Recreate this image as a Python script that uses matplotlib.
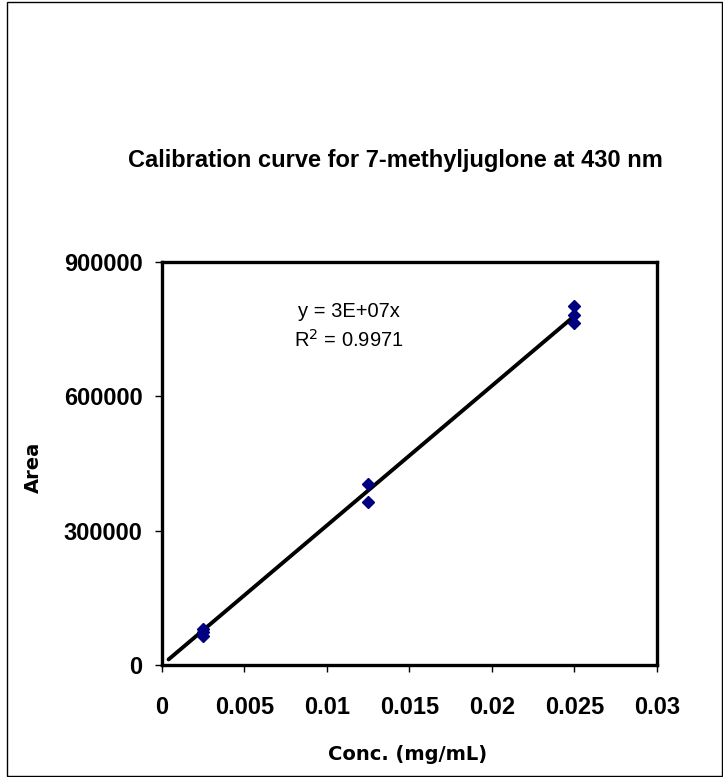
import numpy as np
import matplotlib
matplotlib.use("Agg")
import matplotlib.pyplot as plt
from matplotlib.patches import Rectangle

plt.rcParams['font.family'] = ['Liberation Sans', 'DejaVu Sans']

# calibration standards (mg/mL) and measured peak areas
conc = [0.0025, 0.0025, 0.0025, 0.0125, 0.0125, 0.025, 0.025, 0.025]
area = [80000, 74000, 65000, 405000, 365000, 801000, 781000, 763000]

x_ticks = [0, 0.005, 0.01, 0.015, 0.02, 0.025, 0.03]
x_tick_labels = ['0', '0.005', '0.01', '0.015', '0.02', '0.025', '0.03']
y_ticks = [0, 300000, 600000, 900000]
y_tick_labels = ['0', '300000', '600000', '900000']

trend_start = 0.0004

x = np.array(conc)
y = np.array(area)
# linear fit forced through origin
slope = np.sum(x * y) / np.sum(x * x)
fit_x = np.array([trend_start, x.max()])

fig = plt.figure(figsize=(7.23, 7.77), dpi=100)
ax = fig.add_axes([0.224, 0.1441, 0.6846, 0.5187])

ax.plot(fit_x, slope * fit_x, color='black', lw=2.8, solid_capstyle='round', zorder=2)
ax.plot(conc, area, linestyle='none', marker='D', color='#000080', markersize=6.5, zorder=3)

ax.set_xlim(0, 0.03)
ax.set_ylim(0, 900000)
ax.set_xticks(x_ticks)
ax.set_xticklabels(x_tick_labels, fontsize=17, fontweight='bold')
ax.set_yticks(y_ticks)
ax.set_yticklabels(y_tick_labels, fontsize=17, fontweight='bold')
ax.tick_params(direction='out', length=5, width=1, colors='black')
ax.tick_params(axis='x', pad=17)
ax.tick_params(axis='y', pad=9)

for s in ax.spines.values():
    s.set_linewidth(2.4)

ax.text(0.378, 0.876, 'y = 3E+07x', transform=ax.transAxes, fontsize=14.5, ha='center', va='center')
ax.text(0.378, 0.806, r'R$^2$ = 0.9971', transform=ax.transAxes, fontsize=14.5, ha='center', va='center')

fig.text(0.547, 1 - 160 / 777, 'Calibration curve for 7-methyljuglone at 430 nm',
         fontsize=17, fontweight='bold', ha='center', va='center')
fig.text(408 / 723, 1 - 755 / 777, 'Conc. (mg/mL)', fontsize=14, fontweight='bold',
         family='DejaVu Sans', ha='center', va='center')
fig.text(33 / 723, 1 - 467 / 777, 'Area', fontsize=14, fontweight='bold',
         family='DejaVu Sans', rotation=90, ha='center', va='center')

fig.patches.append(Rectangle((7 / 723, 0.001), 1 - 8 / 723, 0.997, transform=fig.transFigure,
                             fill=False, edgecolor='black', lw=1))

fig.savefig('out.png', dpi=100)
